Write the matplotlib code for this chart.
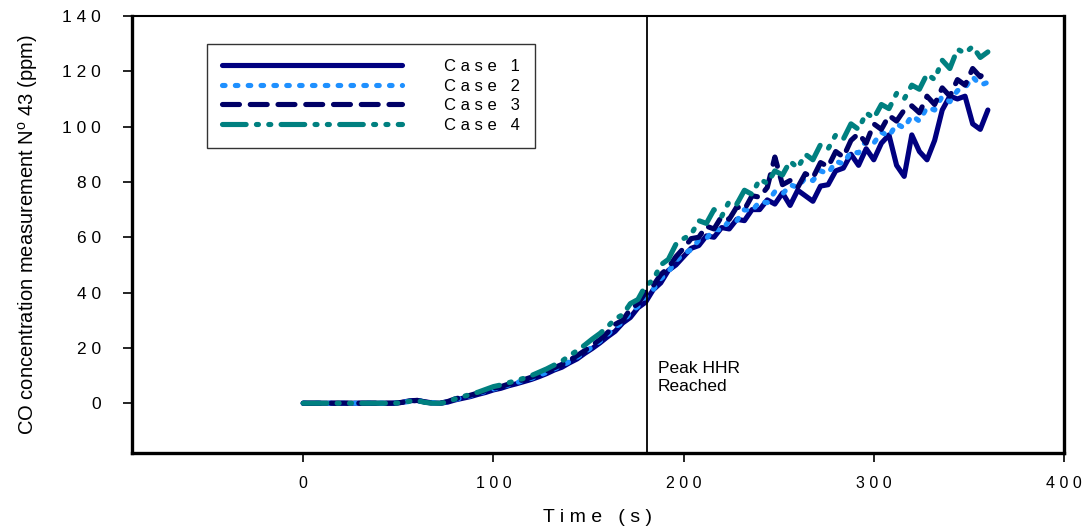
import numpy as np
import matplotlib
matplotlib.use("Agg")
import matplotlib.pyplot as plt

plt.rcParams['font.family'] = ['Liberation Sans', 'DejaVu Sans']
plt.rcParams['mathtext.fontset'] = 'custom'
plt.rcParams['mathtext.rm'] = 'Liberation Sans'

# time grid (s), one reading every 4 s
time_s = np.arange(0, 361, 4)

# CO concentration readings (ppm)
case1 = [0, 0, 0, 0, 0, 0, 0, 0, 0, 0,
         0, 0, 0, 0.3, 0.9, 1.0, 0.5, 0.1, 0, 0.4,
         1.2, 1.8, 2.4, 3.2, 3.9, 4.8, 5.4, 6.3, 7.0, 7.8,
         8.6, 9.6, 10.7, 12.0, 13.0, 14.6, 16.0, 18.0, 19.8, 21.8,
         24.0, 26.0, 29.0, 31.0, 34.5, 36.5, 41.0, 43.5, 48.0, 50.0,
         53, 56, 57, 60.5, 60, 63.5, 63, 66.5, 66, 70,
         70, 73.5, 72, 76, 71.5, 77, 75, 73, 78.5, 79,
         84, 85, 90, 86, 92, 88, 94, 97, 86, 82,
         97, 91, 88, 95, 106, 111, 110, 111, 101, 99,
         106]
case2 = [0, 0, 0, 0, 0, 0, 0, 0, 0, 0,
         0, 0, 0, 0.2, 0.7, 0.9, 0.6, 0.2, 0, 0.5,
         1.4, 2.0, 2.7, 3.5, 4.3, 5.1, 5.8, 6.6, 7.4, 8.2,
         9.0, 10.0, 11.2, 12.4, 13.6, 15.0, 16.6, 18.4, 20.4, 22.4,
         24.8, 27.5, 29.2, 32.8, 35.0, 38.5, 41.0, 45.0, 47.5, 51.5,
         54, 55.5, 59, 59.5, 63, 62.5, 66, 66, 70, 69.5,
         73, 72.5, 76.5, 75.5, 79, 78, 81.5, 80.5, 84, 83,
         87.5, 86.5, 91, 90.5, 95, 94, 98, 96.5, 101, 99.5,
         104, 102, 107, 106, 111, 109, 113, 114, 118, 115,
         116]
case3 = [0, 0, 0, 0, 0, 0, 0, 0, 0, 0,
         0, 0, 0, 0.3, 0.8, 1.0, 0.4, 0, 0, 0.6,
         1.6, 2.2, 2.9, 3.7, 4.6, 5.4, 6.0, 6.9, 7.7, 8.5,
         9.4, 10.4, 11.5, 12.8, 14.0, 15.5, 17.2, 19.0, 21.0, 23.0,
         25.5, 28.5, 30.0, 34.0, 36.0, 40.0, 42.5, 46.5, 49.0, 53.0,
         56, 59.5, 60, 64, 63, 67.5, 66.5, 71, 70, 75,
         74.5, 78, 89, 79, 80.5, 78, 83, 81.5, 87, 85.5,
         91, 89, 95, 97.5, 94, 101, 99, 104, 102, 106,
         107.5, 105, 111, 108, 114, 111, 117, 115, 121, 118,
         121]
case4 = [0, 0, 0, 0, 0, 0, 0, 0, 0, 0,
         0, 0, 0, 0.2, 0.7, 0.9, 0.3, 0, 0, 0.4,
         1.6, 2.4, 3.2, 4.0, 5.0, 6.0, 6.6, 7.4, 8.2, 9.0,
         10.0, 11.2, 12.4, 13.8, 15.2, 17.2, 19.0, 21.0, 23.2, 25.2,
         27.6, 30.5, 32.0, 36.0, 37.5, 42.5, 44.5, 50.0, 52.0, 57.5,
         59.5, 61, 66, 65, 70, 67.5, 73, 72, 77, 75.5,
         81, 79.5, 84, 82.5, 87.5, 85, 90, 88, 93.5, 92,
         97, 95.5, 101, 99, 105, 103, 108, 106.5, 112, 110,
         115, 113.5, 119, 117, 124, 121, 128, 126.5, 129, 125,
         127]

labels = ['C a s e   1', 'C a s e   2', 'C a s e   3', 'C a s e   4']
peak_time = 181

x_ticks = [0, 100, 200, 300, 400]
y_ticks = [0, 20, 40, 60, 80, 100, 120, 140]


def spaced(v):
    return ' '.join(str(v))


fig = plt.figure(figsize=(10.85, 5.29), dpi=100)
ax = fig.add_axes([0.1217, 0.1437, 0.8589, 0.8261])

lw = 3.7
ax.plot(time_s, case1, color='#000080', lw=lw, ls='-',
        solid_capstyle='round', solid_joinstyle='round', label=labels[0])
ax.plot(time_s, case2, color='#1E90FF', lw=lw, ls=(0, (0.5, 2.0)),
        dash_capstyle='round', label=labels[1])
ax.plot(time_s, case3, color='#000066', lw=lw, ls=(0, (3.3, 2.1)),
        dash_capstyle='round', label=labels[2])
ax.plot(time_s, case4, color='#008080', lw=lw,
        ls=(0, (4.6, 2.0, 0.4, 2.0, 0.4, 2.0)),
        dash_capstyle='round', label=labels[3])

ax.axvline(peak_time, color='black', lw=1.3)
ax.text(peak_time + 5.5, 9.4, 'Peak HHR\nReached', fontsize=12.5,
        va='center', ha='left', linespacing=1.25)

ax.set_xlim(-90, 400)
ax.set_ylim(-18, 140)
ax.set_xticks(x_ticks)
ax.set_xticklabels([spaced(v) for v in x_ticks], fontsize=11.5)
ax.set_yticks(y_ticks)
ax.set_yticklabels([spaced(v) for v in y_ticks], fontsize=12.5)
ax.tick_params(direction='out', length=6.5, width=1.2)
ax.tick_params(axis='x', pad=10)
ax.tick_params(axis='y', pad=16)

ax.spines['left'].set_linewidth(2.4)
ax.spines['bottom'].set_linewidth(2.4)
ax.spines['right'].set_linewidth(2.4)
ax.spines['top'].set_linewidth(1.5)

ax.set_xlabel('T i m e   ( s )', fontsize=14, labelpad=13)
ax.set_ylabel(r'CO concentration measurement N$^{\mathrm{o}}$ 43 (ppm)',
              fontsize=14.5, labelpad=16)

leg = ax.legend(loc='upper left', bbox_to_anchor=(0.0805, 0.936),
                fontsize=12, frameon=True, fancybox=False,
                handlelength=10.8, handletextpad=2.5, borderpad=0.9,
                labelspacing=0.28, borderaxespad=0)
leg.get_frame().set_edgecolor('black')
leg.get_frame().set_linewidth(1.0)

fig.savefig('out.png', dpi=100)
